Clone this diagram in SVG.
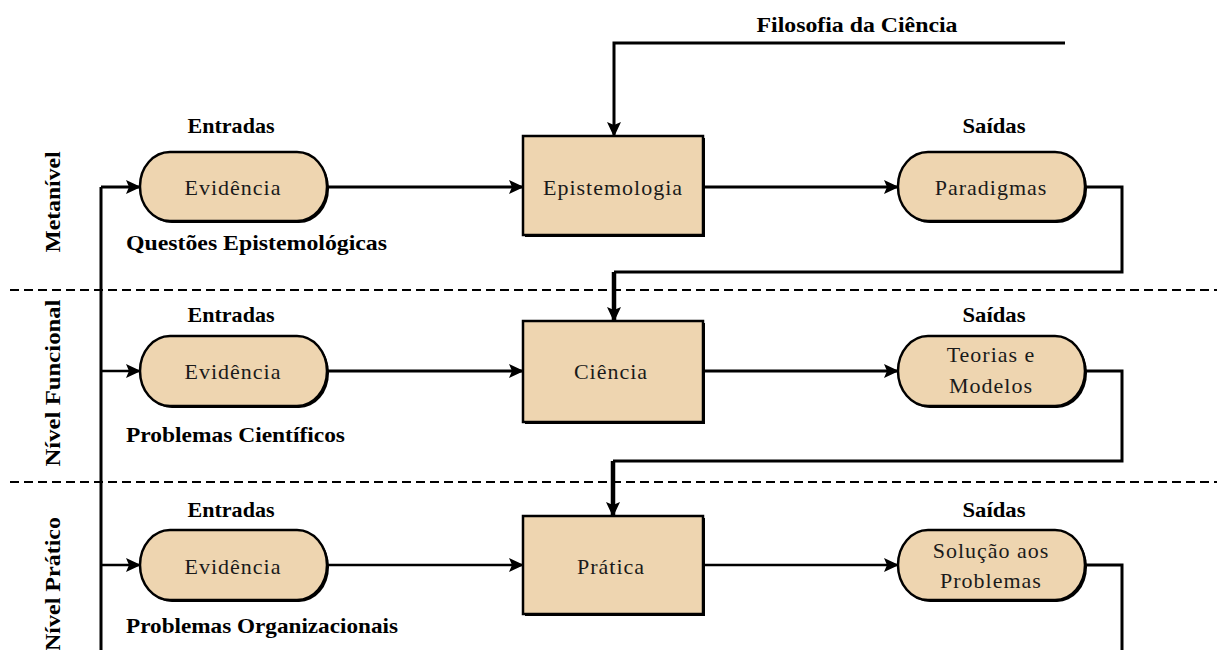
<svg xmlns="http://www.w3.org/2000/svg" width="1217" height="650" viewBox="0 0 1217 650">
  <style>
    .lbl { font-family: "Liberation Serif", "Times New Roman", serif; font-weight: bold; font-size: 22px; fill: #000; }
    .txt { font-family: "Liberation Serif", "Times New Roman", serif; font-size: 22px; fill: #1a1a1a; letter-spacing: 1px; }
    .pill { fill: #EED5B0; stroke: #000; stroke-width: 2.5; }
    .box { fill: #EED5B0; stroke: #000; stroke-width: 2.5; }
    .shadow { fill: #000; }
    .wire { fill: none; stroke: #000; stroke-width: 3; }
    .thin { fill: none; stroke: #000; stroke-width: 2.5; }
    .heavy { fill: none; stroke: #000; stroke-width: 4.5; }
    .dash { stroke: #000; stroke-width: 2; stroke-dasharray: 9 5; }
  </style>
  <defs>
    <marker id="arrow" markerUnits="userSpaceOnUse" markerWidth="15" markerHeight="14" refX="14" refY="7" orient="auto">
      <path d="M0,0 L15,7 L0,14 L3,7 z" fill="#000"/>
    </marker>
  </defs>
  <rect width="1217" height="650" fill="#fff"/>

  <!-- level separators -->
  <g id="separators">
    <line class="dash" x1="10" y1="290" x2="1217" y2="290"/>
    <line class="dash" x1="10" y1="482" x2="1217" y2="482"/>
  </g>

  <!-- level titles -->
  <g id="level-titles">
    <text class="lbl" transform="translate(60,202) rotate(-90)" text-anchor="middle" textLength="101" lengthAdjust="spacingAndGlyphs">Metanível</text>
    <text class="lbl" transform="translate(60,383) rotate(-90)" text-anchor="middle" textLength="167" lengthAdjust="spacingAndGlyphs">Nível Funcional</text>
    <text class="lbl" transform="translate(60,584) rotate(-90)" text-anchor="middle" textLength="134" lengthAdjust="spacingAndGlyphs">Nível Prático</text>
  </g>

  <!-- connectors -->
  <g id="connectors">
    <!-- common input bus -->
    <path class="wire" d="M101,187 L101,650"/>
    <path class="wire" d="M101,187 L140,187" marker-end="url(#arrow)"/>
    <path class="thin" d="M101,371 L140,371" marker-end="url(#arrow)"/>
    <path class="thin" d="M101,565 L140,565" marker-end="url(#arrow)"/>

    <!-- philosophy of science feed -->
    <path class="wire" d="M1065,43 L614,43 L614,136" marker-end="url(#arrow)"/>

    <!-- row 1 -->
    <path class="wire" d="M327,187 L523,187" marker-end="url(#arrow)"/>
    <path class="wire" d="M703,187 L898,187" marker-end="url(#arrow)"/>
    <path class="wire" d="M1085,187 L1122,187 L1122,272 L614,272"/>
    <path class="heavy" d="M614,272 L614,321" marker-end="url(#arrow)"/>

    <!-- row 2 -->
    <path class="wire" d="M327,371 L523,371" marker-end="url(#arrow)"/>
    <path class="wire" d="M703,371 L898,371" marker-end="url(#arrow)"/>
    <path class="wire" d="M1085,371 L1122,371 L1122,461 L613,461"/>
    <path class="heavy" d="M613,461 L613,516" marker-end="url(#arrow)"/>

    <!-- row 3 -->
    <path class="thin" d="M327,565 L523,565" marker-end="url(#arrow)"/>
    <path class="thin" d="M703,565 L898,565" marker-end="url(#arrow)"/>
    <path class="wire" d="M1085,565 L1122,565 L1122,650"/>
  </g>

  <!-- top label -->
  <g id="filosofia">
    <text class="lbl" x="857" y="32" text-anchor="middle" textLength="201" lengthAdjust="spacingAndGlyphs">Filosofia da Ciência</text>
  </g>

  <!-- row 1: meta level -->
  <g id="entradas-1">
    <text class="lbl" x="231" y="133" text-anchor="middle" textLength="87" lengthAdjust="spacingAndGlyphs">Entradas</text>
  </g>
  <g id="evidencia-1">
    <rect class="shadow" x="142" y="154" width="187" height="69" rx="30" ry="34"/>
    <rect class="pill" x="140" y="152" width="187" height="69" rx="30" ry="34"/>
    <text class="txt" x="233" y="195" text-anchor="middle">Evidência</text>
  </g>
  <g id="questoes">
    <text class="lbl" x="126" y="250" textLength="261" lengthAdjust="spacingAndGlyphs">Questões Epistemológicas</text>
  </g>
  <g id="epistemologia">
    <rect class="shadow" x="525" y="138" width="180" height="99"/>
    <rect class="box" x="523" y="136" width="180" height="99"/>
    <text class="txt" x="613" y="195" text-anchor="middle">Epistemologia</text>
  </g>
  <g id="saidas-1">
    <text class="lbl" x="994" y="133" text-anchor="middle" textLength="63" lengthAdjust="spacingAndGlyphs">Saídas</text>
  </g>
  <g id="paradigmas">
    <rect class="shadow" x="900" y="154" width="187" height="69" rx="30" ry="34"/>
    <rect class="pill" x="898" y="152" width="187" height="69" rx="30" ry="34"/>
    <text class="txt" x="991" y="195" text-anchor="middle">Paradigmas</text>
  </g>

  <!-- row 2: functional level -->
  <g id="entradas-2">
    <text class="lbl" x="231" y="322" text-anchor="middle" textLength="87" lengthAdjust="spacingAndGlyphs">Entradas</text>
  </g>
  <g id="evidencia-2">
    <rect class="shadow" x="142" y="338" width="187" height="70" rx="30" ry="35"/>
    <rect class="pill" x="140" y="336" width="187" height="70" rx="30" ry="35"/>
    <text class="txt" x="233" y="379" text-anchor="middle">Evidência</text>
  </g>
  <g id="problemas-cientificos">
    <text class="lbl" x="126" y="442" textLength="219" lengthAdjust="spacingAndGlyphs">Problemas Científicos</text>
  </g>
  <g id="ciencia">
    <rect class="shadow" x="525" y="323" width="180" height="101"/>
    <rect class="box" x="523" y="321" width="180" height="101"/>
    <text class="txt" x="611" y="379" text-anchor="middle">Ciência</text>
  </g>
  <g id="saidas-2">
    <text class="lbl" x="994" y="322" text-anchor="middle" textLength="63" lengthAdjust="spacingAndGlyphs">Saídas</text>
  </g>
  <g id="teorias">
    <rect class="shadow" x="900" y="338" width="187" height="70" rx="30" ry="35"/>
    <rect class="pill" x="898" y="336" width="187" height="70" rx="30" ry="35"/>
    <text class="txt" x="991" y="362" text-anchor="middle">Teorias e</text>
    <text class="txt" x="991" y="393" text-anchor="middle">Modelos</text>
  </g>

  <!-- row 3: practical level -->
  <g id="entradas-3">
    <text class="lbl" x="231" y="517" text-anchor="middle" textLength="87" lengthAdjust="spacingAndGlyphs">Entradas</text>
  </g>
  <g id="evidencia-3">
    <rect class="shadow" x="142" y="532" width="187" height="70" rx="30" ry="35"/>
    <rect class="pill" x="140" y="530" width="187" height="70" rx="30" ry="35"/>
    <text class="txt" x="233" y="574" text-anchor="middle">Evidência</text>
  </g>
  <g id="problemas-organizacionais">
    <text class="lbl" x="126" y="633" textLength="272" lengthAdjust="spacingAndGlyphs">Problemas Organizacionais</text>
  </g>
  <g id="pratica">
    <rect class="shadow" x="525" y="518" width="180" height="98"/>
    <rect class="box" x="523" y="516" width="180" height="98"/>
    <text class="txt" x="611" y="574" text-anchor="middle">Prática</text>
  </g>
  <g id="saidas-3">
    <text class="lbl" x="994" y="517" text-anchor="middle" textLength="63" lengthAdjust="spacingAndGlyphs">Saídas</text>
  </g>
  <g id="solucao">
    <rect class="shadow" x="900" y="532" width="187" height="70" rx="30" ry="35"/>
    <rect class="pill" x="898" y="530" width="187" height="70" rx="30" ry="35"/>
    <text class="txt" x="991" y="558" text-anchor="middle">Solução aos</text>
    <text class="txt" x="991" y="588" text-anchor="middle">Problemas</text>
  </g>
</svg>
